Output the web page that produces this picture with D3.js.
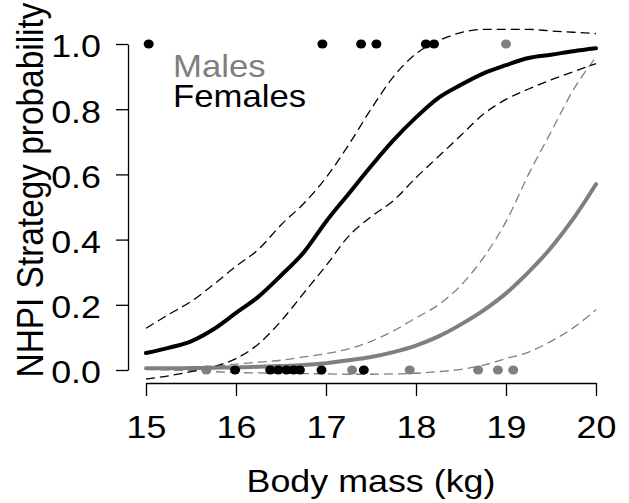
<!DOCTYPE html>
<html><head><meta charset="utf-8">
<script src="https://cdn.jsdelivr.net/npm/d3@7"></script>
<style>body{margin:0;background:#fff}svg{display:block}text{font-family:"Liberation Sans",Arial,sans-serif}</style>
</head><body><svg id="c" width="629" height="503"></svg>
<script>
const xGrid = [15,15.25,15.5,15.75,16,16.25,16.5,16.75,17,17.25,17.5,17.75,18,18.25,18.5,18.75,19,19.25,19.5,19.75,20];
const femaleMean  = [0.052,0.068,0.088,0.125,0.175,0.225,0.29,0.36,0.455,0.54,0.625,0.705,0.775,0.835,0.875,0.91,0.935,0.957,0.967,0.978,0.987];
const femaleUpper = [0.128,0.17,0.21,0.262,0.318,0.37,0.445,0.51,0.59,0.69,0.8,0.9,0.97,1.01,1.035,1.045,1.045,1.045,1.04,1.036,1.032];
const femaleLower = [-0.028,-0.018,-0.005,0.01,0.035,0.08,0.15,0.235,0.32,0.41,0.47,0.52,0.59,0.655,0.72,0.785,0.83,0.862,0.89,0.915,0.94];
const maleMean  = [0.005,0.005,0.006,0.007,0.008,0.01,0.012,0.015,0.021,0.03,0.04,0.055,0.075,0.103,0.14,0.183,0.235,0.3,0.375,0.465,0.57];
const maleUpper = [0.003,0.005,0.008,0.012,0.018,0.024,0.03,0.04,0.05,0.065,0.088,0.12,0.16,0.2,0.26,0.345,0.455,0.6,0.73,0.86,0.96];
const maleLower = [0.002,0.0,-0.002,-0.005,-0.008,-0.009,-0.01,-0.011,-0.012,-0.013,-0.013,-0.012,-0.01,-0.005,0.002,0.015,0.035,0.055,0.088,0.13,0.185];
const femaleOnes  = [15.03,16.96,17.39,17.56,18.11,18.2];
const femaleZeros = [15.99,16.38,16.47,16.56,16.64,16.71,16.95,17.42];
const maleOnes  = [19.0];
const maleZeros = [15.67,17.29,17.93,18.69,18.91,19.08];
const xTicks = [15,16,17,18,19,20];
const yTicks = [0,0.2,0.4,0.6,0.8,1.0];
const legendLabels = ["Males","Females"];

const grey = "#7f7f7f";
const SX = 1.12; // horizontal stretch of the glyphs
const svg = d3.select("#c");
svg.append("rect").attr("width",629).attr("height",503).attr("fill","#fff");
const x = d3.scaleLinear().domain([15,20]).range([146,596]);
const y = d3.scaleLinear().domain([0,1]).range([370,44]);

// axes
const xa = svg.append("g").attr("transform","translate(0,383)")
  .call(d3.axisBottom(x).tickValues(xTicks).tickFormat(d3.format("d")).tickSizeOuter(0).tickSizeInner(13));
const ya = svg.append("g").attr("transform","translate(128,0)")
  .call(d3.axisLeft(y).tickValues(yTicks).tickFormat(d3.format(".1f")).tickSizeOuter(0).tickSizeInner(12));
[xa,ya].forEach(a=>{
  a.select(".domain").attr("stroke","#000").attr("stroke-width",1.3);
  a.selectAll(".tick line").attr("stroke","#000").attr("stroke-width",1.3);
  a.selectAll(".tick text").attr("font-size",32).attr("fill","#000")
    .attr("font-family","Liberation Sans, Arial, sans-serif").attr("x",null).attr("y",null);
});
xa.selectAll(".tick text").attr("dy",null).attr("text-anchor","middle").attr("transform",`translate(0,55) scale(${SX},1)`);
ya.selectAll(".tick text").attr("dy","0.4em").attr("text-anchor","end").attr("transform",`translate(-27,0) scale(${SX},1)`);

svg.append("text").attr("transform",`translate(371,492) scale(${SX},1)`).attr("text-anchor","middle").attr("font-size",32).text("Body mass (kg)");
svg.append("text").attr("transform",`translate(43,190) scale(${SX},1) rotate(-90)`).attr("text-anchor","middle").attr("font-size",33.4).text("NHPI Strategy probability");

const line = vals => d3.line().x((d,i)=>x(xGrid[i])).y(d=>y(d)).curve(d3.curveMonotoneX)(vals);
function draw(vals,color,w,dash){
  const p = svg.append("path").attr("d",line(vals)).attr("fill","none").attr("stroke",color).attr("stroke-width",w).attr("stroke-linecap","round");
  if(dash) p.attr("stroke-dasharray",dash).attr("stroke-linecap","butt");
}
draw(maleUpper,grey,1.3,"9,5");
draw(maleLower,grey,1.3,"9,5");
draw(femaleUpper,"#000",1.3,"9,5");
draw(femaleLower,"#000",1.3,"9,5");
draw(maleMean,grey,4,null);
draw(femaleMean,"#000",4,null);

function pts(arr,val,color){
  svg.append("g").selectAll("ellipse").data(arr).join("ellipse")
    .attr("cx",d=>x(d)).attr("cy",y(val)).attr("rx",5).attr("ry",4.6).attr("fill",color);
}
pts(femaleOnes,1,"#000"); pts(femaleZeros,0,"#000");
pts(maleOnes,1,grey); pts(maleZeros,0,grey);

svg.append("text").attr("transform",`translate(173,77) scale(${SX},1)`).attr("font-size",31).attr("fill",grey).text(legendLabels[0]);
svg.append("text").attr("transform",`translate(173,107) scale(${SX},1)`).attr("font-size",31).attr("fill","#000").text(legendLabels[1]);
</script></body></html>
